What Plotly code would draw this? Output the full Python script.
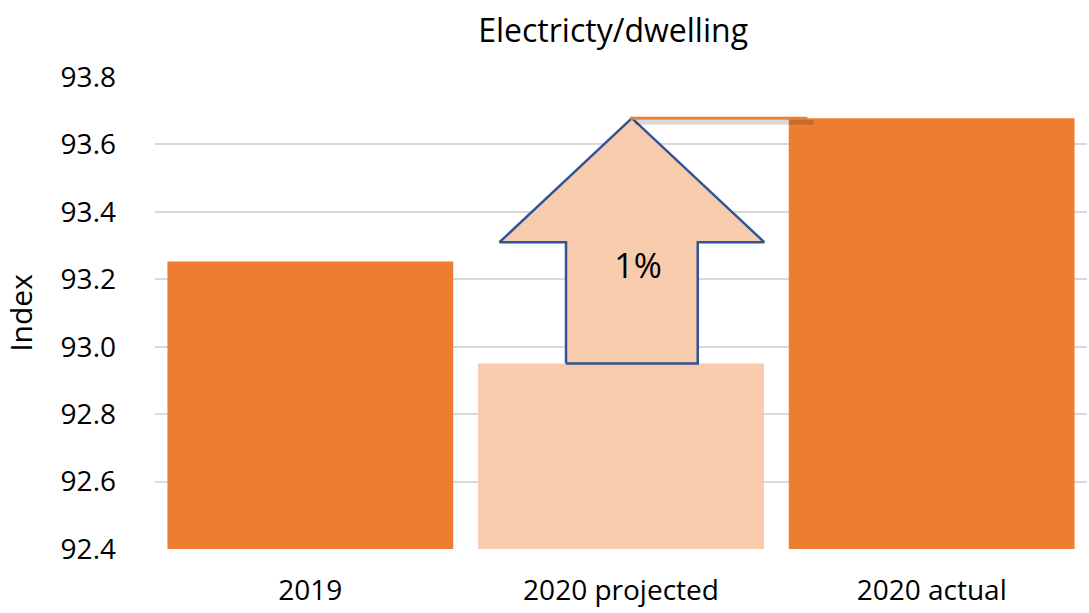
import plotly.graph_objects as go

categories = ["2019", "2020 projected", "2020 actual"]
values = [93.253, 92.95, 93.678]
bar_colors = ["#ED7D31", "#F8CBAD", "#ED7D31"]
y_ticks = [92.4, 92.6, 92.8, 93.0, 93.2, 93.4, 93.6, 93.8]
tick_labels = ["92.4", "92.6", "92.8", "93.0", "93.2", "93.4", "93.6", "93.8"]
arrow_label = "1%"
arrow_wing_y = 93.31

FONT = "Open Sans"
xs = list(range(len(categories)))

fig = go.Figure()
fig.add_trace(go.Bar(x=xs, y=values, marker=dict(color=bar_colors, line=dict(width=0)),
                     width=0.92, hoverinfo="skip", showlegend=False))

# block arrow from projected to actual
cx = xs[1] + 0.035
sw, ww = 0.212, 0.426
base, tip = values[1], values[2]
ax = [cx - sw, cx - sw, cx - ww, cx, cx + ww, cx + sw, cx + sw, cx - sw]
ay = [base, arrow_wing_y, arrow_wing_y, tip, arrow_wing_y, arrow_wing_y, base, base]
fig.add_trace(go.Scatter(x=ax, y=ay, mode="lines", fill="toself", fillcolor="#F8CBAD",
                         line=dict(color="#2F5597", width=2.5), hoverinfo="skip", showlegend=False))

# shadow + orange line at actual level
fig.add_trace(go.Scatter(x=[cx + 0.01, xs[1] + 0.62], y=[tip - 0.012, tip - 0.012], mode="lines",
                         line=dict(color="rgba(0,0,0,0.15)", width=5), hoverinfo="skip", showlegend=False))
fig.add_trace(go.Scatter(x=[cx - 0.005, xs[1] + 0.6], y=[tip, tip], mode="lines",
                         line=dict(color="#ED7D31", width=3), hoverinfo="skip", showlegend=False))

fig.add_trace(go.Scatter(x=[cx + 0.02], y=[93.23], mode="text", text=[arrow_label],
                         textfont=dict(family=FONT, size=34, color="#000000"),
                         hoverinfo="skip", showlegend=False))

fig.update_layout(
    width=1089, height=613,
    margin=dict(l=155, r=2, t=77, b=64),
    paper_bgcolor="white", plot_bgcolor="white",
    title=dict(text="Electricty/dwelling", x=0.563, xanchor="center", y=0.95, yanchor="middle",
               font=dict(family=FONT, size=32, color="#000000")),
    font=dict(family=FONT, size=28, color="#000000"),
    xaxis=dict(range=[-0.5, 2.5], tickvals=xs, ticktext=categories, showgrid=False,
               zeroline=False, showline=False, ticks="", tickfont=dict(size=28),
               ticklabelstandoff=22, automargin=False),
    yaxis=dict(range=[92.4, 93.8], tickvals=y_ticks, ticktext=tick_labels, showgrid=True,
               gridcolor="#D9D9D9", gridwidth=1.5, zeroline=False, showline=False, ticks="",
               tickfont=dict(size=28), ticklabelstandoff=38, automargin=False,
               title=dict(text="Index", font=dict(size=30), standoff=20)),
)

fig.write_html("out.html", config={"displayModeBar": False},
               post_script="document.body.style.margin='0';document.body.style.overflow='hidden';")
